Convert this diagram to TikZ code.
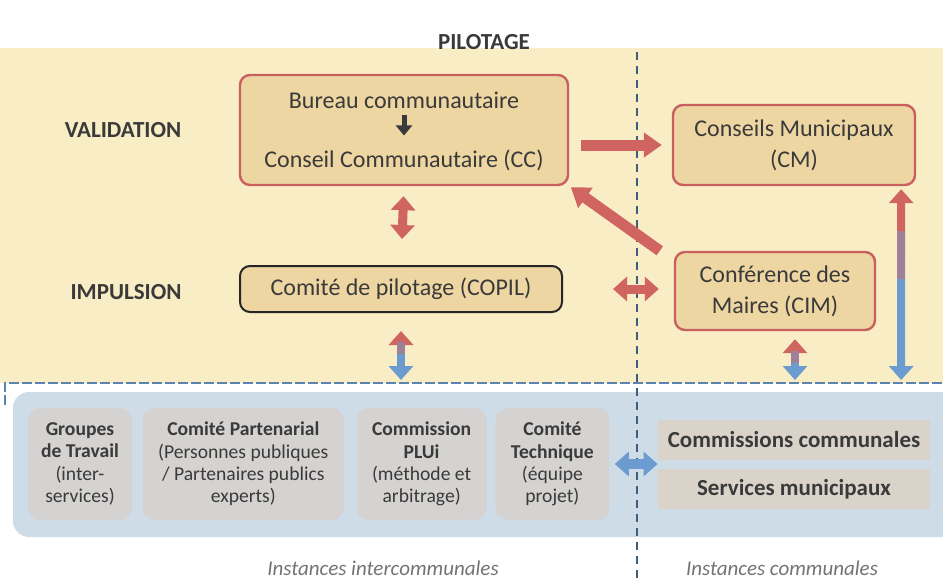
\documentclass[tikz,border=0pt]{standalone}
\usepackage{fontspec}
\setmainfont{Carlito}
\usetikzlibrary{arrows.meta, positioning, calc}
\definecolor{bgyellow}{HTML}{F8EDC4}
\definecolor{boxtan}{HTML}{EDD6A2}
\definecolor{boxred}{HTML}{C95F5F}
\definecolor{arrred}{HTML}{CF6461}
\definecolor{arrblue}{HTML}{6C9BCF}
\definecolor{areablue}{HTML}{CEDCE8}
\definecolor{boxgray}{HTML}{D5D3D1}
\definecolor{txtgray}{HTML}{3A3A3A}

\begin{document}
\begin{tikzpicture}[
    x=0.5pt, y=-0.5pt,
    every node/.style={text=txtgray},
    box/.style={rectangle, draw=boxred, line width=1.2pt, fill=boxtan, rounded corners=5pt, align=center, inner sep=0pt, font=\fontsize{12}{15.5}\selectfont},
    darkbox/.style={box, draw=black!85, line width=1pt},
    graybox/.style={rectangle, fill=boxgray, rounded corners=6pt, align=center, inner sep=0pt, minimum height=56pt, font=\fontsize{9.8}{11.2}\selectfont},
    combox/.style={rectangle, fill=boxgray!85!boxtan, inner sep=0pt, minimum width=136pt, minimum height=20pt, font=\bfseries\fontsize{11.5}{13}\selectfont},
    level/.style={font=\bfseries\fontsize{11.5}{13}\selectfont},
    caption/.style={font=\itshape\fontsize{10.5}{12}\selectfont, text=black!55},
    arrow/.style={line width=4pt, -{Triangle[width=12pt,length=7pt]}, arrred},
    bigarrow/.style={line width=5.5pt, -{Triangle[width=12pt,length=9pt]}, arrred},
    dblarrow/.style={line width=4.5pt, {Triangle[width=12pt,length=7pt]}-{Triangle[width=12pt,length=7pt]}, arrred},
    blend/.style={line width=4pt, arrred!50!arrblue},
    smallarrow/.style={line width=2.5pt, -{Triangle[width=8pt,length=5pt]}, txtgray},
    divider/.style={draw=black!40!arrblue, line width=1pt, dash pattern=on 4pt off 3pt},
    frame/.style={draw=arrblue!85!black, line width=1.2pt, dash pattern=on 5pt off 1.5pt}
]
\useasboundingbox (0,0) rectangle (943,579);
\fill[bgyellow] (0,48) rectangle (943,383);
\node[rectangle, fill=areablue, rounded corners=8pt, minimum width=473.5pt, minimum height=72.5pt] (area) at (486.5,464.5) {};
\draw[frame] (5,405) |- (950,383);
\coordinate (frametop) at (0,383);
\draw[divider] (637,52) -- (637,578);

\node[level] (pilotage) at (484,42) {PILOTAGE};
\node[level] (validation) at (123,130) {VALIDATION};
\node[level] (impulsion) at (126,292) {IMPULSION};

\node[box, minimum width=164pt, minimum height=55pt] (cc) at (404,130) {};
\node[font=\fontsize{12}{15.5}\selectfont] (bureau) at (404,100) {Bureau communautaire};
\node[font=\fontsize{12}{15.5}\selectfont] (conseil) at (404,160) {Conseil Communautaire (CC)};
\node[box, minimum width=121pt, minimum height=40pt] (cm) at (794,145) {Conseils Municipaux\\(CM)};
\node[darkbox, minimum width=161pt, minimum height=23pt] (copil) at (401,289) {Comité de pilotage (COPIL)};
\node[box, minimum width=100pt, minimum height=39pt] (cim) at (775,291) {Conférence des\\Maires (CIM)};

\node[graybox, minimum width=52pt] (grp) at (80,464) {\textbf{Groupes}\\\textbf{de Travail}\\(inter-\\services)};
\node[graybox, minimum width=100.5pt, right=5pt of grp] (part) {\textbf{Comité Partenarial}\\(Personnes publiques\\/ Partenaires publics\\experts)};
\node[graybox, minimum width=65pt, right=6pt of part] (plui) {\textbf{Commission}\\\textbf{PLUi}\\(méthode et\\arbitrage)};
\node[graybox, minimum width=57pt, right=4pt of plui] (tech) {\textbf{Comité}\\\textbf{Technique}\\(équipe\\projet)};
\node[combox] (comm) at (794,440) {Commissions communales};
\node[combox, below=4pt of comm] (serv) {Services municipaux};

\node[caption] (inter) at (383,568) {Instances intercommunales};
\node[caption] (communes) at (782,568) {Instances communales};

\draw[smallarrow, shorten >=3.5pt] (bureau) -- (conseil);
\draw[bigarrow, shorten <=6pt, shorten >=5pt] (cc.east |- cm.west) -- (cm.west);
\draw[bigarrow, shorten >=1pt] ([xshift=-7pt]cim.north west) -- (cc.south east);
\draw[dblarrow, shorten <=5pt, shorten >=13pt] (cc.south) -- (copil.north);
\draw[dblarrow, shorten <=25pt, shorten >=7.5pt] (copil.east) -- (copil.east -| cim.west);

\coordinate (m1) at ($(copil.south)!0.5!(copil.south |- frametop)$);
\draw[arrow, shorten >=9pt] (m1) -- (copil.south);
\draw[arrow, arrblue, shorten >=1.5pt] (m1) -- (copil.south |- frametop);
\draw[blend] ([yshift=3pt]m1) -- ([yshift=-3pt]m1);

\coordinate (m2) at ($([xshift=10pt]cim.south)!0.5!([xshift=10pt]cim.south |- frametop)$);
\draw[arrow, shorten >=4pt] (m2) -- ([xshift=10pt]cim.south);
\draw[arrow, arrblue, shorten >=1.5pt] (m2) -- ([xshift=10pt]cim.south |- frametop);
\draw[blend] ([yshift=3pt]m2) -- ([yshift=-3pt]m2);

\coordinate (m3) at ($([xshift=-7.5pt]cm.south east)!0.35!([xshift=-7.5pt]cm.south east |- frametop)$);
\draw[arrow, shorten >=1.5pt] (m3) -- ([xshift=-7.5pt]cm.south east);
\draw[arrow, arrblue, shorten >=1.5pt] (m3) -- ([xshift=-7.5pt]cm.south east |- frametop);
\draw[blend] ([yshift=12pt]m3) -- ([yshift=-12pt]m3);

\draw[dblarrow, arrblue, line width=5pt, shorten <=2.5pt] (tech.east) -- (tech.east -| comm.west);
\end{tikzpicture}
\end{document}
